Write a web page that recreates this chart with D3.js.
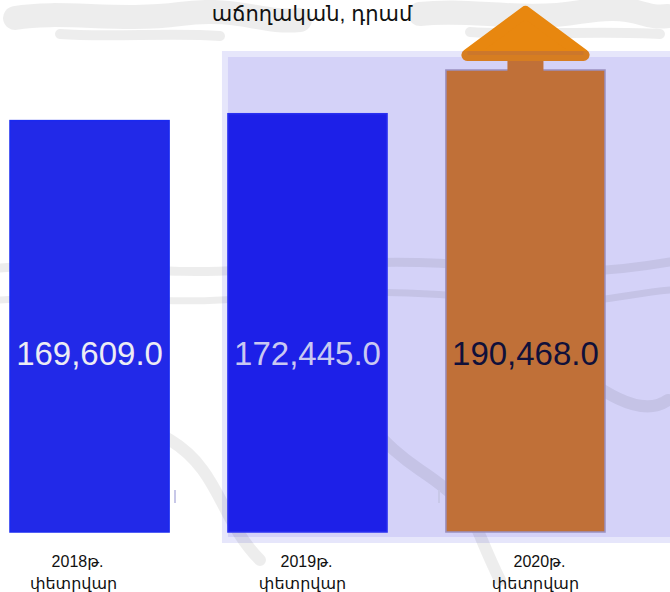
<!DOCTYPE html>
<meta charset="utf-8">
<style>
body { margin: 0; background: #fff; }
svg { display: block; font-family: "Liberation Sans", Arial, "Noto Sans", "DejaVu Sans", sans-serif; }
.wm { fill: none; stroke: #000; stroke-opacity: 0.07; stroke-linecap: round; stroke-linejoin: round; }
.val { font-size: 33px; text-anchor: middle; }
.cat { font-size: 16px; text-anchor: middle; fill: #111; }
.title { font-size: 21px; text-anchor: middle; fill: #111; }
</style>
<div id="chart"></div>
<script src="https://d3js.org/d3.v7.min.js"></script>
<script>
// data
var years = ["2018թ.", "2019թ.", "2020թ."];
var months = ["փետրվար", "փետրվար", "փետրվար"];
var values = [169609.0, 172445.0, 190468.0];
var title = "աճողական, դրամ";

var width = 670, height = 592;
var barFill = ["#2229e8", "#1d20e8", "#c07038"];
var barStroke = ["#1a2af0", "#2a30f0", "#9a90c0"];
var labelFill = ["#ececf4", "#c9c8f2", "#10103a"];
var labelShift = [-12, -1, 14];

var svg = d3.select("#chart").append("svg")
    .attr("width", width)
    .attr("height", height);

var x = d3.scaleBand()
    .domain(years)
    .range([10, 605])
    .paddingInner(0.27)
    .paddingOuter(0);

var y = d3.scaleLinear()
    .domain([0, d3.max(values)])
    .range([532, 70]);

var bw = x.bandwidth();

// faint map watermark at the top
var wm = svg.append("g");
wm.append("path").attr("class", "wm").attr("stroke-width", 24)
    .attr("d", "M15,18 C60,10 120,22 180,14 S260,24 300,20 M420,14 C470,8 520,22 580,12 S640,20 668,16");
wm.append("path").attr("class", "wm").attr("stroke-width", 10)
    .attr("d", "M60,34 C110,38 170,32 220,36 M470,32 C520,36 600,30 660,34");

// lavender panel behind the last two bars
var px = x(years[1]) - 6;
svg.append("rect")
    .attr("x", px).attr("y", 51)
    .attr("width", width - px).attr("height", 492)
    .attr("fill", "#e6e6fb");
svg.append("rect")
    .attr("x", px + 6).attr("y", 57)
    .attr("width", width - px - 6).attr("height", 480)
    .attr("fill", "#d4d2f8");

// watermark strokes crossing the middle
var wm2 = svg.append("g");
wm2.append("path").attr("class", "wm").attr("stroke-width", 9)
    .attr("d", "M0,268 C80,262 160,276 240,270 S400,258 480,266 S600,274 670,262");
wm2.append("path").attr("class", "wm").attr("stroke-width", 7)
    .attr("d", "M0,300 C90,294 170,306 250,298 S420,290 500,300 S620,294 670,290");
wm2.append("path").attr("class", "wm").attr("stroke-width", 12)
    .attr("d", "M20,420 C60,400 120,410 170,440 S220,520 260,560 M300,330 C340,380 360,430 420,470 S470,520 500,580 M560,360 C600,390 640,420 668,400");

// bars
svg.selectAll(".bar")
    .data(values)
    .enter().append("rect")
    .attr("class", "bar")
    .attr("x", function(d, i) { return x(years[i]); })
    .attr("y", function(d) { return y(d); })
    .attr("width", bw)
    .attr("height", function(d) { return y(0) - y(d); })
    .attr("fill", function(d, i) { return barFill[i]; })
    .attr("stroke", function(d, i) { return barStroke[i]; })
    .attr("stroke-width", 1.5);

// little tick marks between bars
[175, 439].forEach(function(tx) {
  svg.append("line")
    .attr("x1", tx).attr("x2", tx).attr("y1", 490).attr("y2", 503)
    .attr("stroke", "#c8c8e8").attr("stroke-width", 2);
});

// up arrow over the highest bar
var last = values.length - 1;
var cx = x(years[last]) + bw / 2;
var barTop = y(values[last]);
var head = d3.line()([[cx, barTop - 58], [cx + 58, barTop - 15], [cx - 58, barTop - 15]]) + "Z";
svg.append("rect")
    .attr("x", cx - 18).attr("y", barTop - 12)
    .attr("width", 36).attr("height", 13)
    .attr("fill", barFill[last]);
svg.append("path")
    .attr("d", head)
    .attr("fill", "#e8870f")
    .attr("stroke", "#e8870f")
    .attr("stroke-width", 12)
    .attr("stroke-linejoin", "round");
// lower edge of the head, where it overlaps the panel, is a bit darker
svg.append("path")
    .attr("d", head)
    .attr("fill", "none")
    .attr("stroke", "#c07038")
    .attr("stroke-opacity", 0.45)
    .attr("stroke-width", 12)
    .attr("stroke-linejoin", "round")
    .attr("clip-path", "url(#bandclip)");
svg.append("clipPath").attr("id", "bandclip")
  .append("rect")
    .attr("x", cx - 70).attr("y", 51)
    .attr("width", 140).attr("height", barTop - 51);
svg.append("rect")
    .attr("x", cx - 58).attr("y", 51)
    .attr("width", 116).attr("height", barTop - 15 - 51)
    .attr("fill", "#c07038").attr("opacity", 0.45);

// value labels
svg.selectAll(".val")
    .data(values)
    .enter().append("text")
    .attr("class", "val")
    .attr("x", function(d, i) { return x(years[i]) + bw / 2; })
    .attr("y", 365)
    .attr("fill", function(d, i) { return labelFill[i]; })
    .text(function(d) { return d3.format(",.1f")(d); });

// category labels
var cat = svg.selectAll(".cat")
    .data(years)
    .enter().append("text")
    .attr("class", "cat")
    .attr("x", function(d, i) { return x(d) + bw / 2 + labelShift[i]; })
    .attr("y", 567);
cat.append("tspan").text(function(d) { return d; });
cat.append("tspan")
    .attr("x", function(d, i) { return x(d) + bw / 2 + labelShift[i] - 4; })
    .attr("dy", 22)
    .text(function(d, i) { return months[i]; });

// title
svg.append("text")
    .attr("class", "title")
    .attr("x", 312)
    .attr("y", 21)
    .text(title);
</script>
